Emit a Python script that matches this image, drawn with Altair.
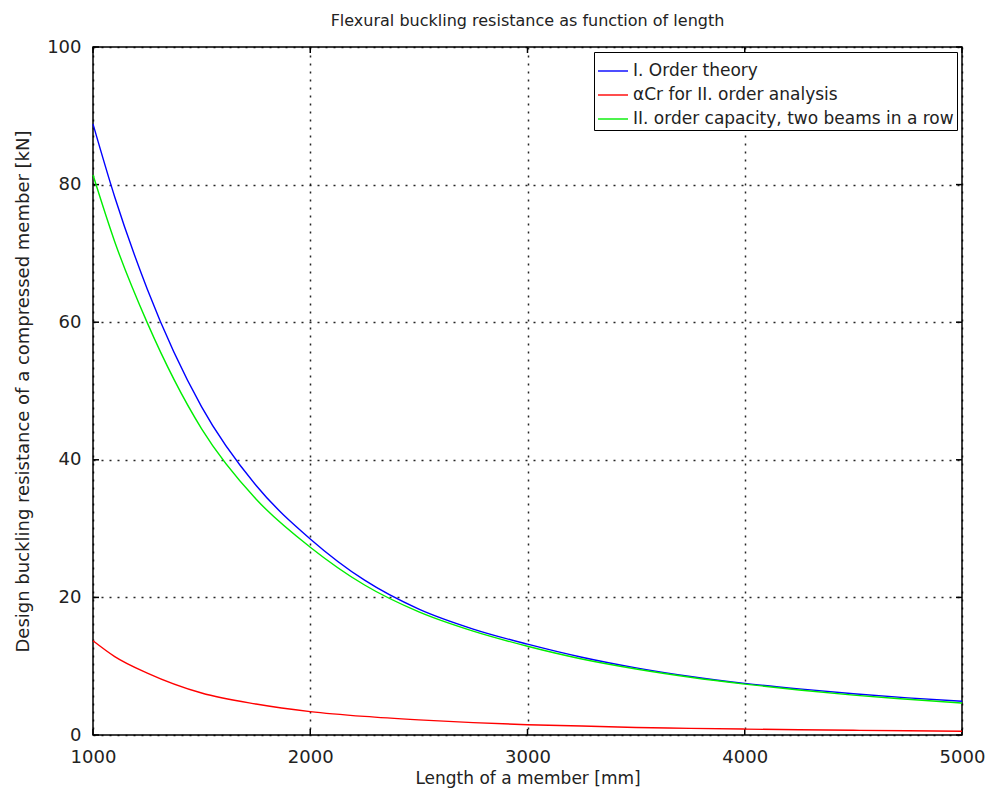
import altair as alt
import pandas as pd

# Length of a member [mm]
lengths = [1000, 1100, 1250, 1500, 1750, 2000, 2250, 2500, 2750, 3000,
           3250, 3500, 3750, 4000, 4250, 4500, 4750, 5000]
# I. Order theory
first_order = [88.8, 78.2, 64.8, 47.7, 36.3, 28.5, 22.5, 18.3, 15.4, 13.2,
               11.3, 9.75, 8.5, 7.5, 6.7, 6.0, 5.4, 4.9]
# alpha_cr for II. order analysis
alpha_cr = [13.7, 11.4, 9.0, 6.1, 4.5, 3.4, 2.7, 2.2, 1.8, 1.5,
            1.3, 1.1, 0.97, 0.86, 0.76, 0.68, 0.61, 0.55]
# II. order capacity, two beams in a row
second_order = [81.4, 71.7, 59.9, 44.5, 34.3, 27.3, 21.8, 17.9, 15.1, 12.9,
                11.05, 9.6, 8.4, 7.4, 6.55, 5.8, 5.2, 4.65]

series_names = ["I. Order theory", "αCr for II. order analysis",
                "II. order capacity, two beams in a row"]
series_colors = ["#0000ff", "#ff0000", "#00ee00"]

x_ticks = [1000, 2000, 3000, 4000, 5000]
y_ticks = [0, 20, 40, 60, 80, 100]

rows = []
for name, vals in zip(series_names, [first_order, alpha_cr, second_order]):
    for L, v in zip(lengths, vals):
        rows.append({"L": L, "N": v, "series": name})
df = pd.DataFrame(rows)

W, H = 869, 688
FONT = "DejaVu Sans"

xscale = alt.Scale(domain=[1000, 5000], nice=False, zero=False)
yscale = alt.Scale(domain=[0, 100], nice=False)

lines = alt.Chart(df).mark_line(strokeWidth=1.4, interpolate="monotone").encode(
    x=alt.X("L:Q", scale=xscale,
            axis=alt.Axis(title="Length of a member [mm]", values=x_ticks, format="d",
                          grid=True, ticks=False, domain=False,
                          labelFlush=False, labelOverlap=False,
                          labelPadding=13, titlePadding=4, titleFontSize=17)),
    y=alt.Y("N:Q", scale=yscale,
            axis=alt.Axis(title="Design buckling resistance of a compressed member [kN]",
                          values=y_ticks, format="d", grid=True, ticks=False, domain=False,
                          labelFlush=False, labelOverlap=False,
                          labelPadding=12, titlePadding=14)),
    color=alt.Color("series:N",
                    scale=alt.Scale(domain=series_names, range=series_colors),
                    sort=series_names,
                    legend=alt.Legend(title=None, orient="top-right", offset=5,
                                      symbolType="stroke", symbolSize=900,
                                      symbolStrokeWidth=1.4,
                                      labelFont=FONT, labelFontSize=17,
                                      labelColor="#222",
                                      strokeColor="#000", fillColor="#fff",
                                      padding=3, rowPadding=0, labelOffset=4,
                                      labelLimit=600)),
)

ydf = pd.DataFrame({"v": y_ticks})
xdf = pd.DataFrame({"v": x_ticks})
tick_len = 6
left_ticks = alt.Chart(ydf).mark_rule(color="#000", strokeWidth=1.5).encode(
    y=alt.Y("v:Q", scale=yscale), x=alt.value(0), x2=alt.value(tick_len))
right_ticks = alt.Chart(ydf).mark_rule(color="#000", strokeWidth=1.5).encode(
    y=alt.Y("v:Q", scale=yscale), x=alt.value(W - tick_len), x2=alt.value(W))
bottom_ticks = alt.Chart(xdf).mark_rule(color="#000", strokeWidth=1.5).encode(
    x=alt.X("v:Q", scale=xscale), y=alt.value(H - tick_len), y2=alt.value(H))
top_ticks = alt.Chart(xdf).mark_rule(color="#000", strokeWidth=1.5).encode(
    x=alt.X("v:Q", scale=xscale), y=alt.value(0), y2=alt.value(tick_len))

chart = alt.layer(left_ticks, right_ticks, bottom_ticks, top_ticks, lines).properties(
    width=W, height=H,
    title=alt.TitleParams("Flexural buckling resistance as function of length",
                          font=FONT, fontSize=16, fontWeight="normal",
                          color="#222", anchor="middle", offset=9),
    autosize=alt.AutoSizeParams(type="none"),
    padding={"left": 85, "top": 39, "right": 25, "bottom": 55},
    background="#ffffff",
).configure_view(
    stroke="#000", strokeWidth=1.5
).configure_axis(
    labelFont=FONT, labelFontSize=18, labelColor="#222",
    titleFont=FONT, titleFontSize=18, titleColor="#222", titleFontWeight="normal",
    gridColor="#000", gridDash=[2, 6], gridWidth=1.5, gridOpacity=0.85,
)

chart.save("out.html", embed_options={"renderer": "svg", "actions": False})
